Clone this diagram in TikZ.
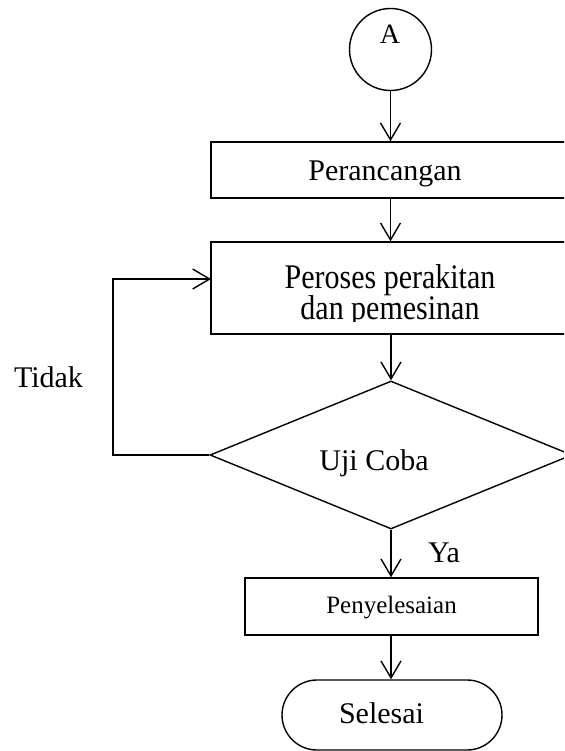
\documentclass[tikz,border=0pt]{standalone}
\usepackage{fontspec}
\setmainfont{Liberation Serif}
\usetikzlibrary{arrows.meta,shapes.geometric,calc}
\begin{document}
\begin{tikzpicture}[x=1pt,y=-1pt, line width=1.4pt,
  arr/.style={-{Straight Barb[length=17pt,width=20pt]}},
  boxnode/.style={draw, rectangle, inner sep=0pt},
  lbl/.style={anchor=base, inner sep=0pt, font=\fontsize{30}{30}\selectfont},
  ]
\useasboundingbox (0,0) rectangle (564,751);
\clip (0,0) rectangle (564,751);
% connector A
\node[draw, circle, minimum size=82pt, inner sep=0pt] (c) at (390.5,49.5) {};
\node[lbl, font=\fontsize{28}{28}\selectfont] (tA) at (390,44) {A};
% Perancangan
\node[boxnode, minimum width=360pt, minimum height=56pt] (b1) at (391,170) {};
\node[lbl] (t1) at (385,181) {Perancangan};
% Peroses
\node[boxnode, minimum width=360pt, minimum height=92pt] (b2) at (391,288) {};
\begin{scope}
\clip (211,242) rectangle (564,321);
\node[lbl] (t2) at (390,288) {\scalebox{1}[1.15]{\begin{tabular}[t]{@{}c@{}}Peroses perakitan\\[-2.2pt]dan pemesinan\end{tabular}}};
\end{scope}
% decision
\node[draw, diamond, minimum width=362pt, minimum height=148pt, inner sep=0pt] (d) at (391,455) {};
\node[lbl] (t3) at (374,470) {Uji Coba};
% Penyelesaian
\node[boxnode, minimum width=293pt, minimum height=57pt] (b4) at (391.5,606.5) {};
\node[lbl, font=\fontsize{25}{25}\selectfont] (t4) at (391.5,613) {Penyelesaian};
% Selesai
\node[draw, rectangle, rounded corners=35pt, minimum width=220pt, minimum height=70pt] (e) at (392,715) {};
\node[lbl] (t5) at (381.5,723) {Selesai};
% labels
\node[lbl] (tT) at (48.5,387) {Tidak};
\node[lbl] (tY) at (444,562) {Ya};
% connectors
\coordinate (lc) at (113,455);
\coordinate (li) at (211,279);
\draw[arr] (c.south) -- (c.south |- b1.north);
\draw[arr] (b1.south -| c.south) -- (b2.north -| c.south);
\draw[arr] (b2.south -| d.north) -- (d.north);
\draw[arr] (d.south) -- (b4.north -| d.south);
\draw[arr] (b4.south -| d.south) -- (e.north -| d.south);
\draw[arr] (d.west) -- (d.west -| lc) |- (li);
\end{tikzpicture}
\end{document}
